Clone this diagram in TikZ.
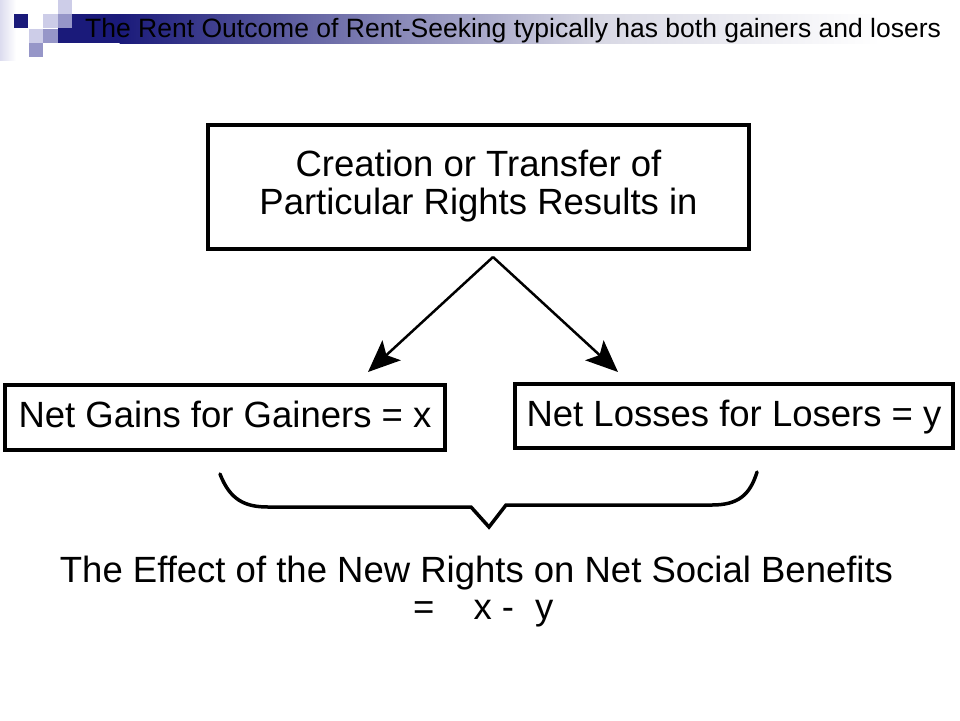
\documentclass[tikz,border=0pt]{standalone}
\usepackage{fontspec}
\setmainfont{Liberation Sans}
\usetikzlibrary{arrows.meta}
\definecolor{navy}{RGB}{26,26,122}
\definecolor{midlav}{RGB}{150,150,200}
\definecolor{ltlav}{RGB}{205,205,232}
\definecolor{barend}{RGB}{216,216,228}
\begin{document}
\begin{tikzpicture}[x=1pt,y=-1pt,
  boxbase/.style={draw=black, line width=4pt, inner sep=0pt, align=center, font=\fontsize{36.5}{38}\selectfont},
  box/.style={boxbase, text height=27pt, text depth=7pt},
  txt/.style={inner sep=0pt, align=center, font=\fontsize{36.5}{40}\selectfont},
  arr/.style={line width=2.5pt, -{Stealth[length=32pt,width=27pt,inset=7pt]}},
  brace/.style={line width=3.5pt, line join=miter, line cap=round},
  sq/.style={draw=none}]
\useasboundingbox (0,0) rectangle (960,720);
\fill[white] (0,0) rectangle (960,720);
% decoration
\shade[left color=ltlav!70, right color=white, draw=none] (0,0) rectangle (16,60);
\fill[navy] (58,14) rectangle (120,43);
\shade[left color=navy, right color=barend, draw=none] (119.5,14) rectangle (600,43);
\shade[left color=barend, right color=white, draw=none] (599.5,14) rectangle (880,43);
\fill[navy, sq] (14,14) rectangle (28,28);
\fill[ltlav, sq] (43,14) rectangle (58,28);
\fill[ltlav, sq] (58,0) rectangle (72,14);
\fill[midlav, sq] (58,14) rectangle (72,28);
\fill[ltlav, sq] (29,29) rectangle (43,43);
\fill[midlav, sq] (43,29) rectangle (58,43);
\fill[midlav, sq] (29,43) rectangle (43,57);
\node[anchor=base west, inner sep=0pt, font=\fontsize{26.5}{30}\selectfont] (title) at (85,37) {The Rent Outcome of Rent-Seeking typically has both gainers and losers};
% boxes
\node[boxbase, minimum width=541pt, minimum height=124pt] (top) at (478.5,186.5) {Creation or Transfer of\\Particular Rights Results in};
\node[box, minimum width=440pt, minimum height=65pt] (gain) at (225,417.5) {Net Gains for Gainers = x};
\node[box, minimum width=438pt, minimum height=64pt] (loss) at (734,416) {Net Losses for Losers = y};
% arrows
\coordinate (apex) at (493,257);
\coordinate (tipL) at (368,372);
\coordinate (tipR) at (618,372);
\draw[arr] (apex) -- (tipL);
\draw[arr] (apex) -- (tipR);
% brace
\draw[brace] (220,474) .. controls (230,500) and (245,507) .. (268,507) -- (471,507) -- (489,527) -- (506,505) -- (712,505) .. controls (738,505) and (750,495) .. (757,472);
% result text
\node[txt, anchor=base] (eff) at (476.5,582) {The Effect of the New Rights on Net Social Benefits};
\node[txt, anchor=base west] (eq) at (413,619) {=\hspace{39pt}x -\hspace{21pt}y};
\end{tikzpicture}
\end{document}
